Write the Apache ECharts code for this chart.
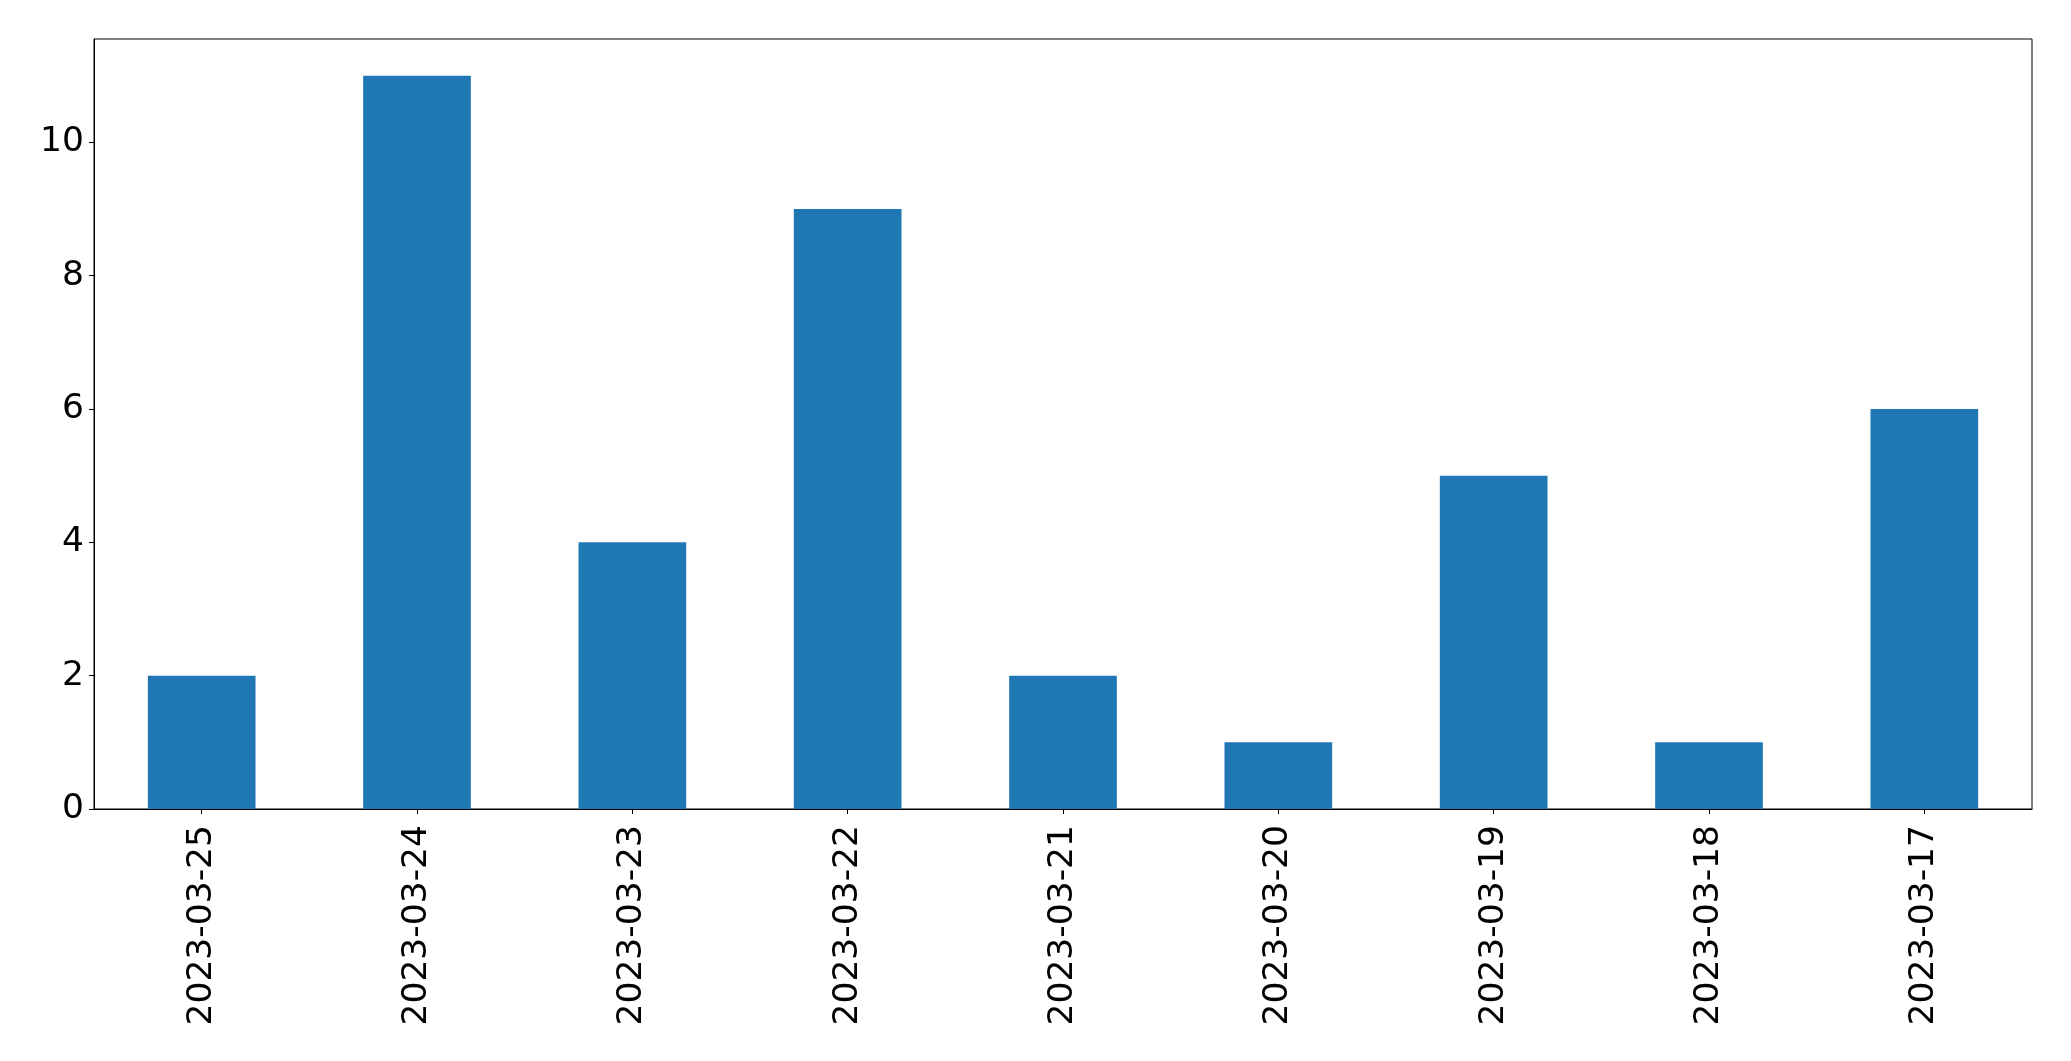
<!DOCTYPE html>
<html>
<head>
<meta charset="utf-8">
<script src="https://cdn.jsdelivr.net/npm/echarts@6/dist/echarts.min.js"></script>
<style>
html,body{margin:0;padding:0;background:#fff;}
#chart{width:2071px;height:1061px;}
</style>
</head>
<body>
<div id="chart"></div>
<script>
var categories = ['2023-03-25','2023-03-24','2023-03-23','2023-03-22','2023-03-21','2023-03-20','2023-03-19','2023-03-18','2023-03-17'];
var values = [2, 11, 4, 9, 2, 1, 5, 1, 6];
var yTicks = [0, 2, 4, 6, 8, 10];

var chart = echarts.init(document.getElementById('chart'));
var font = 'DejaVu Sans';
chart.setOption({
  animation: false,
  backgroundColor: '#ffffff',
  grid: {
    left: 94, right: 39, top: 39, bottom: 252,
    show: true, borderColor: '#000', borderWidth: 1, backgroundColor: 'transparent'
  },
  xAxis: {
    type: 'category',
    data: categories,
    boundaryGap: true,
    axisLine: {show: true, lineStyle: {color: '#000', width: 1}},
    axisTick: {show: true, alignWithLabel: true, length: 5, lineStyle: {color: '#000', width: 1}},
    axisLabel: {rotate: 90, fontFamily: font, fontSize: 34.5, color: '#000', margin: 16, interval: 0},
    splitLine: {show: false}
  },
  yAxis: {
    type: 'value',
    min: 0,
    max: 11.55,
    interval: 2,
    axisLine: {show: true, lineStyle: {color: '#000', width: 1}},
    axisTick: {show: true, length: 5, customValues: yTicks, lineStyle: {color: '#000', width: 1}},
    axisLabel: {fontFamily: font, fontSize: 34.5, color: '#000', margin: 10, customValues: yTicks},
    splitLine: {show: false}
  },
  series: [{
    type: 'bar',
    data: values,
    barWidth: '50%',
    itemStyle: {color: '#1f77b4'}
  }]
});
</script>
</body>
</html>
